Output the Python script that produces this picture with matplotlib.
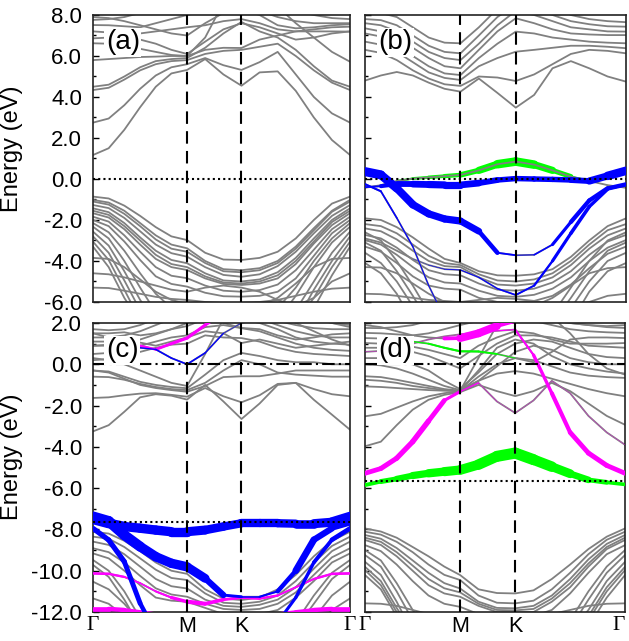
import numpy as np
import matplotlib.pyplot as plt
from matplotlib.collections import LineCollection

plt.rcParams["font.family"] = ["Liberation Sans", "DejaVu Sans"]
plt.rcParams["axes.unicode_minus"] = False

# k-path G-M-K-G, cumulative length
K_PATH = [0.0, 0.096, 0.192, 0.289, 0.385, 0.481, 0.577, 0.688,
          0.800, 0.911, 1.022, 1.133, 1.244, 1.355, 1.466, 1.577]
K_NODES = [0.0, 0.577, 0.911, 1.577]
K_LABELS = ["Γ", "M", "K", "Γ"]

# ---------------- panel (a) ----------------
BANDS_A = [
    [1.17, 1.5, 2.4, 3.5, 4.5, 5.15, 5.32, 5.85, 5.1, 4.55, 5.2, 5.25, 4.3, 3.0, 1.9, 1.17],
    [2.75, 2.95, 3.6, 4.4, 5.05, 5.45, 5.6, 5.9, 5.55, 5.32, 5.7, 6.2, 5.1, 4.0, 3.2, 2.75],
    [4.34, 4.45, 4.85, 5.3, 5.6, 5.75, 5.8, 6.1, 6.25, 6.3, 6.45, 6.6, 6.0, 5.3, 4.7, 4.34],
    [4.5, 4.6, 5.0, 5.45, 5.75, 5.85, 5.9, 6.4, 7.1, 7.66, 7.2, 6.9, 6.3, 5.5, 4.8, 4.5],
    [5.8, 5.85, 5.9, 5.95, 5.97, 6.0, 6.0, 6.9, 8.6, 9.0, 9.0, 8.4, 7.6, 6.9, 6.2, 5.72],
    [6.62, 6.6, 6.5, 6.35, 6.2, 6.05, 6.0, 6.3, 6.4, 6.39, 6.8, 7.0, 7.2, 7.3, 7.4, 7.43],
    [6.86, 6.9, 7.0, 7.1, 7.2, 7.3, 7.4, 7.5, 7.7, 7.8, 7.6, 7.3, 7.2, 7.2, 7.2, 7.19],
    [7.2, 7.15, 7.0, 6.8, 6.6, 6.3, 6.1, 6.7, 7.3, 7.6, 7.4, 7.1, 6.8, 6.9, 7.1, 7.2],
    [7.51, 7.5, 7.45, 7.4, 7.6, 7.8, 8.0, 8.2, 8.4, 8.5, 8.2, 7.9, 7.7, 7.6, 7.6, 7.6],
    [7.9, 7.85, 7.7, 7.5, 7.3, 7.1, 7.0, 7.6, 8.1, 8.3, 8.0, 7.5, 7.35, 7.4, 7.5, 7.55],
    [7.76, 7.8, 7.9, 8.1, 8.3, 8.5, 8.6, 8.8, 8.9, 9.0, 8.8, 8.5, 8.2, 8.0, 7.85, 7.8],
    [-0.86, -0.95, -1.3, -1.8, -2.35, -2.8, -2.98, -3.6, -3.93, -3.95, -3.85, -3.55, -2.9, -2.0, -1.2, -0.86],
    [-1.02, -1.15, -1.55, -2.15, -2.75, -3.2, -3.38, -4.0, -4.4, -4.45, -4.35, -4.0, -3.3, -2.4, -1.55, -1.02],
    [-1.1, -1.25, -1.7, -2.3, -2.95, -3.4, -3.55, -4.1, -4.5, -4.55, -4.45, -4.1, -3.4, -2.5, -1.6, -1.1],
    [-1.27, -1.42, -1.9, -2.55, -3.2, -3.62, -3.79, -4.3, -4.68, -4.77, -4.65, -4.25, -3.55, -2.65, -1.8, -1.27],
    [-1.43, -1.62, -2.15, -2.85, -3.5, -3.95, -4.11, -4.6, -4.95, -5.0, -4.9, -4.55, -3.85, -2.9, -2.0, -1.43],
    [-1.55, -1.75, -2.3, -3.0, -3.7, -4.15, -4.3, -4.75, -5.05, -5.1, -5.0, -4.7, -4.0, -3.05, -2.1, -1.55],
    [-1.67, -1.88, -2.45, -3.2, -3.9, -4.3, -4.44, -4.85, -5.12, -5.17, -5.1, -4.85, -4.15, -3.15, -2.25, -1.67],
    [-1.84, -2.08, -2.75, -3.55, -4.3, -4.72, -4.84, -5.2, -5.45, -5.5, -5.42, -5.15, -4.45, -3.45, -2.45, -1.84],
    [-2.0, -2.3, -3.05, -3.95, -4.75, -5.12, -5.25, -5.55, -5.72, -5.74, -5.7, -5.5, -4.85, -3.75, -2.65, -2.0],
    [-2.15, -2.6, -3.5, -4.6, -5.6, -6.3, -6.5, -6.5, -6.5, -6.5, -6.5, -6.3, -5.3, -4.0, -2.9, -2.15],
    [-2.33, -2.9, -4.0, -5.3, -6.5, -7.0, -7.0, -7.0, -7.0, -7.0, -7.0, -6.9, -5.7, -4.3, -3.1, -2.33],
    [-2.57, -3.25, -4.5, -5.9, -7.0, -7.0, -7.0, -7.0, -7.0, -7.0, -7.0, -7.0, -6.4, -5.0, -3.6, -2.57],
    [-2.8, -3.6, -4.95, -6.4, -7.0, -7.0, -7.0, -7.0, -7.0, -7.0, -7.0, -7.0, -7.0, -5.4, -4.0, -2.8],
    [-3.06, -3.95, -5.4, -6.9, -7.0, -7.0, -7.0, -7.0, -7.0, -7.0, -7.0, -7.0, -7.0, -5.8, -4.3, -3.06],
    [-3.3, -4.3, -5.8, -7.0, -7.0, -7.0, -7.0, -7.0, -7.0, -7.0, -7.0, -7.0, -7.0, -6.3, -4.7, -3.3],
    [-3.85, -3.9, -4.3, -4.9, -5.5, -5.9, -6.1, -6.3, -6.3, -6.3, -6.2, -5.8, -5.1, -4.3, -3.9, -3.85],
    [-4.6, -4.65, -4.8, -5.0, -5.2, -5.4, -5.5, -5.3, -5.2, -5.3, -5.5, -5.9, -6.2, -5.8, -5.0, -4.6],
    [-5.3, -5.32, -5.45, -5.6, -5.75, -5.85, -5.9, -6.0, -6.05, -6.05, -6.0, -5.9, -5.7, -5.5, -5.35, -5.3],
]

# ---------------- panel (b) ----------------
BANDS_B = [
    [4.8, 5.05, 5.22, 5.05, 4.7, 4.4, 4.26, 4.9, 4.2, 3.48, 4.1, 5.4, 5.75, 5.4, 5.0, 4.75],
    [6.3, 6.15, 5.8, 5.3, 4.9, 4.62, 4.54, 5.0, 4.95, 4.78, 5.1, 5.6, 6.1, 6.3, 6.25, 6.13],
    [6.7, 6.55, 6.2, 5.7, 5.2, 4.93, 4.83, 5.5, 5.9, 6.21, 6.3, 6.4, 6.5, 6.5, 6.45, 6.38],
    [7.1, 6.95, 6.6, 6.0, 5.5, 5.15, 5.07, 5.9, 6.6, 7.19, 7.1, 6.9, 6.8, 6.7, 6.65, 6.62],
    [7.35, 7.2, 6.9, 6.4, 5.9, 5.5, 5.4, 6.3, 7.2, 7.84, 7.6, 7.3, 7.1, 7.05, 7.02, 7.02],
    [7.6, 7.5, 7.2, 6.7, 6.2, 5.9, 5.8, 6.6, 7.5, 8.2, 8.0, 7.7, 7.4, 7.3, 7.2, 7.19],
    [7.8, 7.75, 7.5, 7.0, 6.5, 6.2, 6.13, 7.0, 7.9, 8.5, 8.3, 8.0, 7.7, 7.55, 7.45, 7.43],
    [8.2, 8.1, 7.9, 7.4, 6.9, 6.65, 6.62, 7.4, 8.3, 9.0, 9.0, 8.5, 8.0, 7.8, 7.7, 7.65],
    [-1.92, -2.0, -2.35, -2.85, -3.4, -3.9, -4.1, -4.5, -4.7, -4.72, -4.65, -4.4, -3.8, -3.0, -2.3, -1.92],
    [-2.2, -2.3, -2.65, -3.2, -3.75, -4.1, -4.2, -4.65, -4.95, -5.0, -4.9, -4.6, -4.0, -3.2, -2.5, -2.2],
    [-2.41, -2.55, -2.95, -3.5, -4.0, -4.25, -4.3, -4.8, -5.15, -5.2, -5.1, -4.8, -4.2, -3.4, -2.75, -2.41],
    [-2.73, -2.9, -3.35, -3.95, -4.45, -4.65, -4.7, -5.1, -5.4, -5.45, -5.35, -5.05, -4.5, -3.7, -3.05, -2.73],
    [-2.98, -3.2, -3.7, -4.3, -4.8, -5.05, -5.1, -5.45, -5.7, -5.75, -5.65, -5.35, -4.8, -4.0, -3.35, -2.98],
    [-3.3, -3.55, -4.1, -4.75, -5.2, -5.35, -5.4, -5.8, -6.0, -6.0, -5.95, -5.7, -5.15, -4.35, -3.65, -3.3],
    [-2.6, -3.0, -4.0, -5.2, -6.5, -7.0, -7.0, -7.0, -7.0, -7.0, -7.0, -6.6, -5.3, -4.0, -3.0, -2.6],
    [-3.1, -3.5, -4.5, -5.7, -7.0, -7.0, -7.0, -7.0, -7.0, -7.0, -7.0, -7.0, -5.8, -4.5, -3.5, -3.1],
    [-3.6, -4.1, -5.0, -6.2, -7.0, -7.0, -7.0, -7.0, -7.0, -7.0, -7.0, -7.0, -6.3, -5.0, -4.0, -3.6],
    [-4.1, -4.6, -5.6, -7.0, -7.0, -7.0, -7.0, -7.0, -7.0, -7.0, -7.0, -7.0, -7.0, -5.5, -4.5, -4.1],
    [-4.3, -4.32, -4.6, -5.1, -5.6, -6.0, -6.2, -6.3, -6.3, -6.3, -6.2, -5.8, -5.2, -4.6, -4.35, -4.3],
    [-5.6, -5.62, -5.7, -5.8, -5.9, -5.95, -6.0, -5.9, -5.8, -5.85, -5.95, -6.1, -6.2, -6.0, -5.7, -5.6],
]
B_GREEN_E = [-0.43, -0.3, -0.1, 0.02, 0.08, 0.14, 0.2, 0.42, 0.72, 0.85, 0.7, 0.42, 0.12, -0.1, -0.3, -0.43]
B_GREEN_W = [0.0, 0.05, 0.2, 0.3, 0.35, 0.45, 0.5, 0.7, 0.9, 1.0, 0.9, 0.7, 0.4, 0.1, 0.0, 0.0]
B_BLUE0_E = [-0.4, -0.35, -0.25, -0.25, -0.27, -0.29, -0.29, -0.2, -0.05, 0.02, 0.0, -0.02, -0.05, -0.1, 0.15, 0.4]
B_BLUE0_W = [0.1, 0.3, 0.6, 0.7, 0.8, 0.8, 0.8, 0.7, 0.6, 0.6, 0.6, 0.6, 0.6, 0.7, 0.9, 1.0]
B_BLUE1_E = [0.36, 0.2, -0.45, -1.25, -1.7, -1.95, -2.05, -2.55, -3.6, -3.72, -3.7, -3.2, -2.1, -1.05, -0.45, -0.25]
B_BLUE1_W = [1.0, 1.0, 0.9, 0.85, 0.8, 0.8, 0.8, 0.7, 0.3, 0.1, 0.1, 0.25, 0.45, 0.5, 0.45, 0.4]
B_BLUE2_E = [-0.25, -0.6, -1.9, -3.3, -5.2, -6.8, -7.5, -7.5, -7.5, -7.5, -7.5, -7.5, -7.5, -7.5, -7.5, -7.5]
B_BLUE2_W = [0.25, 0.2, 0.15, 0.12, 0.1, 0.1, 0.1, 0.1, 0.1, 0.1, 0.1, 0.1, 0.1, 0.1, 0.1, 0.1]
B_BLUE3_E = [-2.9, -3.1, -3.5, -3.9, -4.2, -4.4, -4.44, -4.8, -5.35, -5.66, -5.2, -4.0, -2.65, -1.35, -0.5, -0.3]
B_BLUE3_W = [0.0, 0.0, 0.0, 0.0, 0.05, 0.08, 0.1, 0.12, 0.15, 0.2, 0.2, 0.3, 0.4, 0.4, 0.35, 0.3]

# ---------------- panel (c) ----------------
BANDS_C = [
    [-3.25, -2.95, -2.3, -1.6, -1.45, -1.52, -1.71, -1.0, -1.8, -2.65, -1.9, -1.0, -0.9, -1.72, -2.44, -3.17],
    [-1.63, -1.6, -1.5, -1.42, -1.4, -1.48, -1.57, -1.15, -1.55, -1.84, -1.5, -0.95, -0.9, -1.2, -1.45, -1.55],
    [-0.3, -0.4, -0.7, -1.0, -1.15, -1.25, -1.33, -1.05, -0.62, -0.58, -0.58, -0.45, -0.3, -0.3, -0.3, -0.3],
    [-0.3, -0.35, -0.6, -0.85, -1.0, -1.1, -1.16, -0.5, 0.2, 0.55, 0.4, 0.2, 0.1, 0.1, 0.0, 0.0],
    [-0.6, -0.62, -0.75, -0.95, -1.1, -1.2, -1.25, -0.9, -0.3, 0.2, 0.0, -0.4, -0.5, -0.55, -0.6, -0.6],
    [0.3, 0.2, 0.0, -0.3, -0.6, -0.9, -1.05, 0.5, 2.2, 2.5, 2.5, 2.3, 2.0, 1.6, 1.2, 0.9],
    [0.2, 0.25, 0.4, 0.6, 0.8, 0.95, 1.0, 1.4, 1.3, 1.27, 1.1, 0.8, 0.6, 0.5, 0.45, 0.4],
    [0.5, 0.55, 0.7, 0.9, 1.1, 1.3, 1.4, 1.8, 1.9, 1.75, 1.6, 1.3, 1.0, 0.8, 0.7, 0.65],
    [0.9, 0.95, 1.0, 1.2, 1.45, 1.7, 1.85, 2.2, 2.3, 2.2, 2.0, 1.7, 1.3, 1.1, 1.0, 0.95],
    [1.1, 1.1, 1.2, 1.05, 0.9, 1.1, 1.3, 1.6, 1.5, 1.03, 1.2, 1.0, 0.8, 0.9, 1.0, 1.1],
    [1.3, 1.3, 1.4, 1.6, 1.9, 2.2, 2.4, 2.6, 2.5, 2.4, 2.2, 1.9, 1.6, 1.4, 1.3, 1.3],
    [1.5, 1.5, 1.55, 1.4, 1.5, 1.7, 2.0, 2.3, 2.0, 1.76, 1.7, 1.4, 1.2, 1.3, 1.45, 1.5],
    [1.7, 1.65, 1.7, 1.9, 2.2, 2.4, 2.5, 2.7, 2.7, 2.6, 2.4, 2.1, 1.9, 1.75, 1.7, 1.7],
    [-8.11, -8.2, -8.55, -9.05, -9.6, -10.0, -10.15, -10.9, -11.35, -11.42, -11.3, -10.9, -10.2, -9.3, -8.55, -8.11],
    [-8.35, -8.45, -8.85, -9.4, -9.95, -10.35, -10.45, -11.1, -11.55, -11.6, -11.5, -11.2, -10.5, -9.6, -8.8, -8.35],
    [-8.59, -8.75, -9.2, -9.8, -10.4, -10.75, -10.86, -11.4, -11.7, -11.75, -11.65, -11.4, -10.8, -9.9, -9.05, -8.59],
    [-8.91, -9.1, -9.6, -10.25, -10.85, -11.15, -11.26, -11.6, -11.85, -11.9, -11.85, -11.6, -11.05, -10.2, -9.35, -8.91],
    [-9.16, -9.4, -10.0, -10.7, -11.3, -11.45, -11.5, -11.8, -12.1, -12.1, -12.1, -11.9, -11.3, -10.5, -9.6, -9.16],
    [-9.48, -10.0, -11.0, -12.3, -13.0, -13.0, -13.0, -13.0, -13.0, -13.0, -13.0, -13.0, -12.5, -11.2, -10.1, -9.48],
    [-9.72, -10.3, -11.4, -12.7, -13.0, -13.0, -13.0, -13.0, -13.0, -13.0, -13.0, -13.0, -12.8, -11.6, -10.4, -9.72],
    [-10.53, -10.9, -11.6, -12.5, -13.0, -13.0, -13.0, -13.0, -13.0, -13.0, -13.0, -13.0, -13.0, -12.3, -11.2, -10.53],
    [-11.34, -11.6, -12.2, -13.0, -13.0, -13.0, -13.0, -13.0, -13.0, -13.0, -13.0, -13.0, -13.0, -12.8, -11.9, -11.34],
]
C_BLUE0_E = [-7.5, -7.7, -7.86, -7.94, -8.03, -8.11, -8.11, -8.03, -7.86, -7.7, -7.7, -7.7, -7.72, -7.72, -7.65, -7.38]
C_BLUE0_W = [1.0, 0.95, 0.9, 0.9, 0.9, 0.9, 0.9, 0.85, 0.8, 0.8, 0.8, 0.8, 0.8, 0.85, 0.9, 1.0]
C_BLUE1_E = [-7.38, -7.6, -8.27, -8.83, -9.32, -9.64, -9.81, -10.37, -11.18, -11.26, -11.26, -11.0, -10.0, -8.5, -7.95, -7.7]
C_BLUE1_W = [1.0, 1.0, 1.0, 0.95, 0.9, 0.9, 0.9, 0.8, 0.4, 0.15, 0.15, 0.25, 0.6, 0.7, 0.5, 0.4]
C_BLUE2_E = [-7.95, -8.51, -9.56, -11.58, -13.0, -13.0, -13.0, -13.0, -13.0, -13.0, -13.0, -12.5, -11.3, -9.6, -8.5, -7.95]
C_BLUE2_W = [0.5, 0.5, 0.5, 0.45, 0.4, 0.4, 0.4, 0.4, 0.4, 0.4, 0.4, 0.3, 0.3, 0.35, 0.4, 0.5]
C_MAG0_E = [-10.13, -10.15, -10.3, -10.6, -11.0, -11.3, -11.5, -11.6, -11.4, -11.3, -11.35, -11.2, -10.8, -10.4, -10.15, -10.13]
C_MAG0_W = [0.25, 0.25, 0.2, 0.15, 0.15, 0.25, 0.4, 0.4, 0.3, 0.25, 0.25, 0.2, 0.15, 0.2, 0.25, 0.25]
C_MAG1_E = [-11.85, -11.85, -11.9, -12.0, -12.1, -12.1, -12.1, -12.1, -12.1, -12.1, -12.1, -12.1, -12.0, -11.9, -11.85, -11.85]
C_MAG1_W = [0.45, 0.45, 0.4, 0.35, 0.35, 0.35, 0.35, 0.35, 0.35, 0.35, 0.35, 0.35, 0.35, 0.4, 0.45, 0.45]
C_MAG2_E = [1.5, 1.3, 1.1, 0.9, 0.72, 1.0, 1.27, 1.9, 2.5, 2.6, 2.6, 2.6, 2.5, 2.3, 2.0, 1.8]
C_MAG2_W = [0.0, 0.0, 0.1, 0.2, 0.25, 0.3, 0.3, 0.3, 0.3, 0.0, 0.0, 0.0, 0.0, 0.0, 0.0, 0.0]
C_BLUE3_E = [0.9, 0.9, 0.85, 0.8, 0.72, 0.3, 0.0, 0.55, 1.5, 2.0, 2.2, 2.3, 2.3, 2.2, 2.0, 1.9]
C_BLUE3_W = [0.0, 0.0, 0.0, 0.1, 0.15, 0.15, 0.15, 0.15, 0.1, 0.0, 0.0, 0.0, 0.0, 0.0, 0.0, 0.0]

# ---------------- panel (d) ----------------
BANDS_D = [
    [-3.97, -3.75, -2.95, -2.2, -1.72, -1.48, -1.35, -1.0, -1.3, -1.54, -1.3, -0.9, -1.3, -1.9, -2.5, -2.93],
    [-2.52, -2.4, -2.1, -1.8, -1.55, -1.4, -1.3, -0.8, -0.45, -0.33, -0.45, -0.7, -0.95, -1.2, -1.4, -1.55],
    [-1.07, -1.1, -1.15, -1.2, -1.25, -1.28, -1.3, -0.6, 0.0, 0.3, 0.2, -0.1, -0.4, -0.55, -0.62, -0.66],
    [-0.75, -0.8, -0.9, -1.05, -1.15, -1.25, -1.28, -0.3, 0.8, 1.2, 1.0, 0.4, 0.0, -0.2, -0.35, -0.45],
    [-0.58, -0.62, -0.75, -0.9, -1.05, -1.2, -1.28, 0.3, 1.9, 2.5, 2.5, 2.3, 1.5, 0.5, -0.2, -0.5],
    [0.0, -0.05, -0.2, -0.45, -0.75, -1.05, -1.25, -0.8, -0.1, 0.6, 0.9, 0.7, 0.3, 0.1, 0.0, 0.0],
    [0.3, 0.3, 0.2, 0.0, -0.3, -0.8, -1.2, -0.4, 0.5, 1.0, 1.2, 1.1, 0.8, 0.5, 0.35, 0.3],
    [0.8, 0.8, 0.75, 0.6, 0.4, 0.1, -0.2, 0.4, 1.0, 1.4, 1.4, 1.3, 1.1, 0.9, 0.85, 0.8],
    [1.03, 1.0, 0.95, 0.85, 0.7, 0.5, 0.3, 0.9, 1.3, 1.6, 1.5, 1.2, 1.0, 1.0, 1.0, 1.03],
    [1.52, 1.5, 1.45, 1.4, 1.5, 1.7, 1.9, 2.1, 2.2, 2.2, 2.1, 1.9, 1.7, 1.6, 1.55, 1.52],
    [1.76, 1.75, 1.8, 1.9, 2.1, 2.3, 2.5, 2.6, 2.6, 2.6, 2.5, 2.3, 2.0, 1.9, 1.8, 1.76],
    [-7.95, -8.1, -8.4, -8.85, -9.3, -9.8, -10.21, -10.9, -11.08, -11.1, -10.95, -10.4, -9.7, -8.95, -8.35, -7.95],
    [-8.11, -8.25, -8.6, -9.1, -9.7, -10.2, -10.45, -11.2, -11.55, -11.58, -11.45, -10.9, -10.1, -9.2, -8.5, -8.11],
    [-8.27, -8.45, -8.9, -9.5, -10.1, -10.6, -10.86, -11.5, -11.8, -11.82, -11.7, -11.2, -10.4, -9.45, -8.7, -8.27],
    [-8.4, -8.6, -9.1, -9.75, -10.4, -10.85, -11.05, -11.6, -11.9, -11.92, -11.85, -11.35, -10.6, -9.65, -8.85, -8.4],
    [-8.51, -8.75, -9.3, -10.0, -10.7, -11.1, -11.26, -11.7, -12.0, -12.0, -12.0, -11.5, -10.8, -9.8, -8.95, -8.51],
    [-8.76, -9.05, -9.7, -10.5, -11.2, -11.6, -11.75, -12.1, -12.2, -12.2, -12.2, -11.9, -11.1, -10.1, -9.2, -8.76],
    [-9.0, -9.5, -10.6, -11.9, -13.0, -13.0, -13.0, -13.0, -13.0, -13.0, -13.0, -13.0, -12.4, -11.0, -9.8, -9.0],
    [-9.24, -9.8, -11.0, -12.4, -13.0, -13.0, -13.0, -13.0, -13.0, -13.0, -13.0, -13.0, -12.8, -11.4, -10.1, -9.24],
    [-9.57, -10.2, -11.5, -13.0, -13.0, -13.0, -13.0, -13.0, -13.0, -13.0, -13.0, -13.0, -13.0, -11.9, -10.5, -9.57],
    [-9.81, -10.5, -11.8, -13.0, -13.0, -13.0, -13.0, -13.0, -13.0, -13.0, -13.0, -13.0, -13.0, -12.2, -10.8, -9.81],
    [-9.97, -10.7, -12.0, -13.0, -13.0, -13.0, -13.0, -13.0, -13.0, -13.0, -13.0, -13.0, -13.0, -12.4, -11.0, -9.97],
    [-10.21, -10.9, -12.2, -13.0, -13.0, -13.0, -13.0, -13.0, -13.0, -13.0, -13.0, -13.0, -13.0, -12.7, -11.3, -10.21],
    [-11.58, -11.6, -11.7, -11.9, -12.1, -12.2, -12.2, -12.2, -12.2, -12.2, -12.2, -12.1, -11.9, -11.7, -11.6, -11.58],
]
D_GREEN_E = [-5.85, -5.68, -5.55, -5.39, -5.28, -5.2, -5.12, -4.86, -4.46, -4.3, -4.62, -4.96, -5.3, -5.6, -5.72, -5.82]
D_GREEN_W = [0.3, 0.4, 0.5, 0.6, 0.7, 0.8, 0.85, 0.9, 1.0, 1.0, 1.0, 0.9, 0.7, 0.5, 0.35, 0.3]
D_GREEN2_E = [1.27, 1.25, 1.2, 1.1, 1.0, 0.8, 0.63, 0.62, 0.5, 0.3, 0.1, 0.6, 1.2, 1.3, 1.3, 1.27]
D_GREEN2_W = [0.0, 0.0, 0.0, 0.1, 0.2, 0.25, 0.25, 0.25, 0.2, 0.0, 0.0, 0.0, 0.0, 0.0, 0.0, 0.0]
D_MAG1_E = [-5.28, -5.05, -4.55, -3.75, -2.75, -1.75, -1.32, -0.9, -1.8, -2.36, -1.75, -0.8, -1.4, -2.5, -3.3, -3.9]
D_MAG1_W = [0.55, 0.6, 0.6, 0.65, 0.65, 0.5, 0.25, 0.08, 0.04, 0.04, 0.04, 0.04, 0.04, 0.04, 0.04, 0.04]
D_MAG2_E = [0.6, 0.65, 0.8, 1.0, 1.2, 1.35, 1.45, 1.55, 1.62, 1.68, 0.45, -1.4, -3.3, -4.3, -4.9, -5.28]
D_MAG2_W = [0.04, 0.04, 0.04, 0.04, 0.04, 0.04, 0.04, 0.08, 0.12, 0.15, 0.35, 0.45, 0.55, 0.6, 0.6, 0.55]
D_MAG3_E = [1.9, 1.8, 1.6, 1.4, 1.3, 1.25, 1.27, 1.5, 1.85, 2.1, 2.2, 2.1, 2.0, 1.9, 1.85, 1.9]
D_MAG3_W = [0.0, 0.0, 0.0, 0.0, 0.0, 0.0, 0.9, 1.0, 0.9, 0.0, 0.0, 0.0, 0.0, 0.0, 0.0, 0.0]

GREY = "#808080"
BLUE = "#0000ff"
GREEN = "#00ff00"
MAGENTA = "#ff00ff"


def fat_band(ax, energies, weights, color, scale, z):
    pts = np.column_stack([K_PATH, energies])
    segs = np.stack([pts[:-1], pts[1:]], axis=1)
    w = np.asarray(weights)
    widths = (w[:-1] + w[1:]) / 2 * scale
    lc = LineCollection(segs, linewidths=widths, colors=color,
                        capstyle="round", zorder=z)
    ax.add_collection(lc)


def setup_axis(ax, ylim, label, show_ylabels, show_xlabels):
    ax.set_xlim(K_PATH[0], K_PATH[-1])
    ax.set_ylim(*ylim)
    ax.set_yticks(np.arange(ylim[0], ylim[1] + 0.1, 2))
    ax.set_yticks(np.arange(ylim[0], ylim[1] + 0.1, 1), minor=True)
    ax.yaxis.set_major_formatter(plt.FormatStrFormatter("%.1f"))
    ax.tick_params(axis="y", which="major", direction="in", length=4,
                   width=1.0, labelsize=16, pad=8, labelleft=show_ylabels)
    ax.tick_params(axis="y", which="minor", direction="in", length=2.5,
                   width=1.0)
    ax.set_xticks(K_NODES)
    if show_xlabels:
        ax.set_xticklabels(K_LABELS)
        for t in ax.get_xticklabels():
            if t.get_text() == "Γ":
                t.set_fontfamily("Liberation Serif")
    else:
        ax.set_xticklabels([])
    ax.tick_params(axis="x", length=0, labelsize=15.5, pad=3)
    for sp in ax.spines.values():
        sp.set_linewidth(1.2)
        sp.set_color("#222222")
    for kx in K_NODES[1:3]:
        ax.axvline(kx, color="black", lw=1.5, dashes=(6, 3.5), zorder=6)
    ax.text(0.05, 0.905, label, transform=ax.transAxes, fontsize=20,
            va="center", ha="left", zorder=7,
            bbox=dict(facecolor="white", edgecolor="none", pad=1.0))


def main():
    fig = plt.figure(figsize=(6.29, 6.41), dpi=100)
    ax_a = fig.add_axes([0.1479, 0.5289, 0.4086, 0.4477])
    ax_b = fig.add_axes([0.5803, 0.5289, 0.4149, 0.4477])
    ax_c = fig.add_axes([0.1479, 0.0452, 0.4086, 0.4509])
    ax_d = fig.add_axes([0.5803, 0.0452, 0.4134, 0.4509])

    for ax, bands in [(ax_a, BANDS_A), (ax_b, BANDS_B),
                      (ax_c, BANDS_C), (ax_d, BANDS_D)]:
        for e in bands:
            ax.plot(K_PATH, e, color=GREY, lw=1.3, zorder=2)

    # (b) fat bands: green below the grey line, blue on top
    fat_band(ax_b, B_GREEN_E, B_GREEN_W, GREEN, 6.5, 1.5)
    ax_b.plot(K_PATH, B_GREEN_E, color=GREY, lw=1.3, zorder=2)
    for e, w in [(B_BLUE3_E, B_BLUE3_W), (B_BLUE2_E, B_BLUE2_W),
                 (B_BLUE1_E, B_BLUE1_W), (B_BLUE0_E, B_BLUE0_W)]:
        ax_b.plot(K_PATH, e, color=GREY, lw=1.3, zorder=2)
        fat_band(ax_b, e, w, BLUE, 6.5, 3)

    # (c) fat bands
    for e, w, c in [(C_MAG0_E, C_MAG0_W, MAGENTA), (C_MAG1_E, C_MAG1_W, MAGENTA),
                    (C_MAG2_E, C_MAG2_W, MAGENTA), (C_BLUE3_E, C_BLUE3_W, BLUE),
                    (C_BLUE2_E, C_BLUE2_W, BLUE), (C_BLUE1_E, C_BLUE1_W, BLUE),
                    (C_BLUE0_E, C_BLUE0_W, BLUE)]:
        ax_c.plot(K_PATH, e, color=GREY, lw=1.3, zorder=2)
        fat_band(ax_c, e, w, c, 7.5, 3)

    # (d) fat bands
    for e, w, c, s in [(D_MAG1_E, D_MAG1_W, MAGENTA, 6),
                       (D_MAG2_E, D_MAG2_W, MAGENTA, 6),
                       (D_MAG3_E, D_MAG3_W, MAGENTA, 6),
                       (D_GREEN2_E, D_GREEN2_W, GREEN, 6),
                       (D_GREEN_E, D_GREEN_W, GREEN, 8)]:
        ax_d.plot(K_PATH, e, color=GREY, lw=1.3, zorder=2)
        fat_band(ax_d, e, w, c, s, 3)

    # reference energy lines
    dot = (0, (1, 1.5))
    dash_dot = (0, (6, 2, 1, 2))
    ax_a.axhline(0.0, color="black", lw=1.5, ls=dot, zorder=6)
    ax_b.axhline(0.0, color="black", lw=1.5, ls=dot, zorder=6)
    ax_c.axhline(0.0, color="black", lw=1.5, ls=dash_dot, zorder=6)
    ax_c.axhline(-7.65, color="black", lw=1.5, ls=dot, zorder=6)
    ax_d.axhline(0.0, color="black", lw=1.5, ls=dash_dot, zorder=6)
    ax_d.axhline(-5.64, color="black", lw=1.5, ls=dot, zorder=6)

    setup_axis(ax_a, (-6, 8), "(a)", True, False)
    setup_axis(ax_b, (-6, 8), "(b)", False, False)
    setup_axis(ax_c, (-12, 2), "(c)", True, True)
    setup_axis(ax_d, (-12, 2), "(d)", False, True)
    # keep the last Gamma inside the figure
    ax_d.get_xticklabels()[-1].set_horizontalalignment("right")

    fig.text(12 / 629, 1 - 149 / 641, "Energy (eV)", rotation=90,
             fontsize=17, ha="center", va="center")
    fig.text(12 / 629, 1 - 457 / 641, "Energy (eV)", rotation=90,
             fontsize=17, ha="center", va="center")

    fig.savefig("out.png", dpi=100)


if __name__ == "__main__":
    main()
